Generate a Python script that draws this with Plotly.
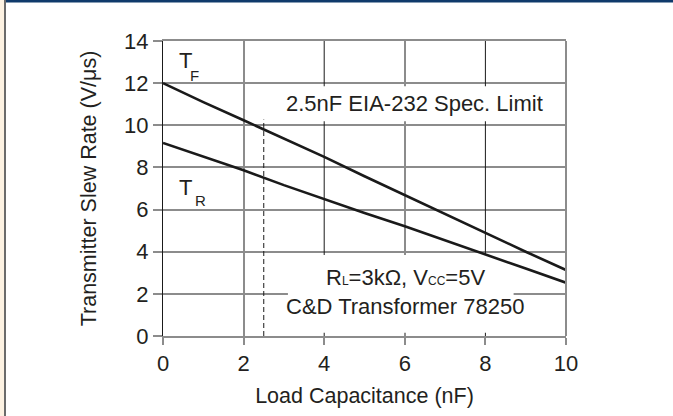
import plotly.graph_objects as go

# ---- data ----
load_nf = [0, 1, 2, 3, 4, 5, 6, 7, 8, 9, 10]
tf_rate = [12.0, 11.1, 10.24, 9.37, 8.5, 7.58, 6.68, 5.8, 4.91, 4.0, 3.13]
tr_rate = [9.16, 8.52, 7.87, 7.16, 6.49, 5.84, 5.21, 4.55, 3.89, 3.2, 2.53]
spec_limit_x = [2.5, 2.5]
spec_limit_y = [0, 10.27]
x_ticks = [0, 2, 4, 6, 8, 10]
x_grid_dark = [4, 8]
x_grid_gray = [2, 6]
y_ticks = [0, 2, 4, 6, 8, 10, 12, 14]

FONT = "Liberation Sans, Arial, sans-serif"
TXT = "#231f20"
GRAY = "#8c8c8c"
DARK = "#1a1a1a"

fig = go.Figure()
fig.add_trace(go.Scatter(x=spec_limit_x, y=spec_limit_y, mode="lines",
                         line=dict(color=DARK, width=1, dash="5px,3px"),
                         hoverinfo="skip", showlegend=False))
fig.add_trace(go.Scatter(x=load_nf, y=tf_rate, mode="lines",
                         line=dict(color=DARK, width=2.6), showlegend=False))
fig.add_trace(go.Scatter(x=load_nf, y=tr_rate, mode="lines",
                         line=dict(color=DARK, width=2.6), showlegend=False))

tickfont = dict(family=FONT, size=22, color=TXT)
titlefont = dict(family=FONT, size=21.5, color=TXT)
fig.update_layout(
    width=673, height=416,
    margin=dict(l=163, r=107, t=41, b=80),
    paper_bgcolor="white", plot_bgcolor="white",
    font=dict(family=FONT, color=TXT),
    xaxis=dict(range=[0, 10], tickvals=x_ticks, ticktext=[str(v) for v in x_ticks],
               showgrid=False, zeroline=False,
               showline=True, linecolor=GRAY, linewidth=2, mirror=True,
               ticks="outside", ticklen=7, tickwidth=2, tickcolor=GRAY, automargin=False,
               minor=dict(tickvals=x_grid_gray, showgrid=True, gridcolor=GRAY, gridwidth=2, ticks=""),
               tickfont=tickfont,
               title=dict(text="Load Capacitance (nF)", font=titlefont, standoff=13)),
    yaxis=dict(range=[0, 14], tickvals=y_ticks, showgrid=True, gridcolor=GRAY, gridwidth=2,
               zeroline=False, showline=True, linecolor=DARK, linewidth=1, automargin=False,
               ticks="outside", ticklen=9, tickwidth=2,
               tickcolor=GRAY, tickfont=tickfont,
               title=dict(text="Transmitter Slew Rate (V/μs)", font=titlefont, standoff=21)),
)

# dark vertical grid lines at 4 and 8 (between grid and traces)
for xv in x_grid_dark:
    fig.add_shape(type="line", xref="x", yref="y", x0=xv, x1=xv, y0=y_ticks[0], y1=y_ticks[-1],
                  line=dict(color=DARK, width=1), layer="between")

# white masks over grid behind labels (drawn between grid and traces)
fig.add_shape(type="rect", xref="x", yref="y", x0=3.0, x1=9.6, y0=10.19, y1=11.85,
              fillcolor="white", line=dict(width=0), layer="between")
fig.add_shape(type="rect", xref="x", yref="y", x0=3.1, x1=8.7, y0=0.15, y1=3.85,
              fillcolor="white", line=dict(width=0), layer="between")

# right frame edge
fig.add_shape(type="line", xref="paper", yref="paper", x0=1, x1=1, y0=0, y1=1,
              line=dict(color=GRAY, width=2), layer="above")

# page decorations
W = 403.0
H = 295.0
def px_x(p):
    return (p - 163.0) / W
def px_y(p):
    return (336.0 - p) / H
fig.add_shape(type="rect", xref="paper", yref="paper", x0=px_x(0), x1=px_x(4), y0=px_y(416), y1=px_y(0),
              fillcolor="#fdf2e2", line=dict(width=0), layer="above")
fig.add_shape(type="rect", xref="paper", yref="paper", x0=px_x(4), x1=px_x(6), y0=px_y(416), y1=px_y(0),
              fillcolor="#6b6b6b", line=dict(width=0), layer="above")
fig.add_shape(type="rect", xref="paper", yref="paper", x0=px_x(6), x1=px_x(673), y0=px_y(2.5), y1=px_y(0),
              fillcolor="#0f3a6b", line=dict(width=0), layer="above")

ann = dict(showarrow=False, font=dict(family=FONT, size=22, color=TXT))
sub = dict(showarrow=False, font=dict(family=FONT, size=15, color=TXT))
fig.add_annotation(x=0.56, y=13.06, xanchor="center", yanchor="middle", text="T", **ann)
fig.add_annotation(x=0.78, y=12.35, xanchor="center", yanchor="middle", text="F", **sub)
fig.add_annotation(x=0.56, y=7.03, xanchor="center", yanchor="middle", text="T", **ann)
fig.add_annotation(x=0.93, y=6.41, xanchor="center", yanchor="middle", text="R", **sub)
fig.add_annotation(x=6.25, y=11.05, xanchor="center", yanchor="middle",
                   text="2.5nF EIA-232 Spec. Limit", **ann)
fig.add_annotation(x=6.02, y=2.8, xanchor="center", yanchor="middle",
                   text="R<span style='font-size:12px'>L</span>=3kΩ, V<span style='font-size:12px'>CC</span>=5V", **ann)
fig.add_annotation(x=6.0, y=1.42, xanchor="center", yanchor="middle",
                   text="C&D Transformer 78250", **ann)

fig.write_html("out.html", config={"displayModeBar": False},
               post_script="document.body.style.margin='0';document.body.style.padding='0';")
